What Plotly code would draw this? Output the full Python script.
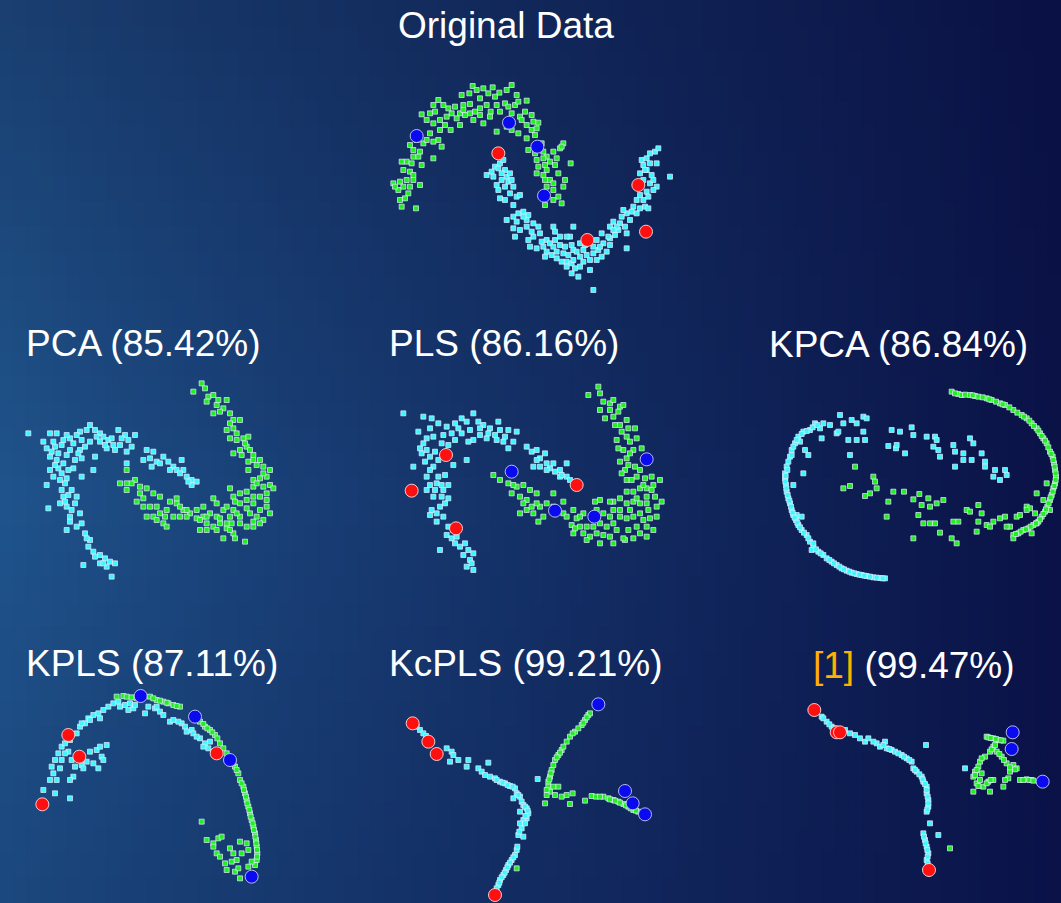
import plotly.graph_objects as go

W, H = 1061, 903

# ---------------- data (panel-local units, y measured downward) ----------------
titles = ["Original Data", "PCA (85.42%)", "PLS (86.16%)", "KPCA (86.84%)",
          "KPLS (87.11%)", "KcPLS (99.21%)", '<span style="color:#FFB000">[1]</span> (99.47%)']

orig_green = [(245,45),(278,18),(310,25),(338,22),(358,38),(395,15),(410,45),(440,62),(300,55),(270,72),(250,75),(225,80),(215,100),(200,110),(190,75),(175,60),(165,95),(150,100),(125,103),(160,130),(180,120),(240,100),(255,105),(285,95),(300,85),(320,75),(332,95),(350,75),(375,70),(385,80),(405,75),(420,110),(435,95),(425,120),(440,135),(455,150),(460,125),(475,128),(465,165),(440,175),(415,160),(395,150),(380,140),(350,155),(310,130),(280,120),(240,135),(212,150),(180,150),(175,180),(185,200),(160,185),(150,160),(130,190),(120,215),(100,210),(90,195),(110,180),(140,180),(160,235),(125,255),(100,230),(80,245),(65,245),(70,270),(90,275),(100,285),(80,300),(60,305),(40,310),(55,330),(85,340),(90,320),(75,355),(120,315),(65,380),(108,385),(60,360),(490,215),(500,230),(520,215),(540,205),(530,235),(525,255),(495,255),(475,260),(470,280),(490,285),(510,300),(500,320),(520,330),(545,370),(535,350),(495,375),(520,310),(555,300),(572,250),(550,190),(545,200),(490,235),(480,200),(445,210),(465,220),(500,270),(495,300),
              (268,40),(290,30),(325,40),(345,50),(380,30),(415,65),(395,100),(360,95),(330,110),(270,100),(230,115),(205,85),(160,75),(140,120),(195,135),(250,90),(300,105),(455,105),(470,145),(485,190),(510,245),(535,280),(550,320),(470,240),(520,360),(95,250),(70,320),(45,320),(115,230),(100,300)]
orig_cyan = [(320,285),(335,275),(345,260),(355,265),(360,250),(370,240),(375,270),(380,290),(390,280),(365,300),(350,315),(355,330),(375,320),(385,305),(400,320),(410,350),(420,345),(375,360),(360,355),(380,420),(400,410),(415,400),(430,395),(445,405),(440,420),(410,425),(400,445),(420,450),(440,440),(460,430),(475,440),(480,460),(460,470),(445,480),(405,470),(450,500),(470,505),(490,500),(500,515),(495,530),(515,525),(530,515),(540,495),(525,480),(550,520),(560,545),(575,550),(580,540),(600,530),(620,525),(640,520),(655,510),(665,530),(680,515),(690,495),(670,490),(650,480),(640,500),(610,510),(600,490),(575,495),(555,500),(570,470),(580,440),(560,470),(575,580),(595,590),(640,630),(630,570),(610,545),(665,460),(690,440),(700,425),(720,430),(715,450),(705,465),(740,460),(735,440),(750,420),(740,400),(730,390),(760,380),(770,400),(780,385),(795,380),(805,385),(770,360),(780,345),(800,335),(810,310),(820,300),(830,320),(815,285),(800,270),(790,255),(785,240),(800,235),(810,220),(825,215),(835,205),(830,250),(870,290),(780,280),(790,300),(740,505),(580,510),(600,560),(620,480),(540,470),(525,455),(520,440),(500,480),(690,475),
             (340,290),(365,280),(395,300),(390,340),(400,375),(430,410),(455,455),(485,485),(510,490),(530,535),(545,545),(565,525),(590,515),(615,495),(630,540),(660,500),(685,470),(710,440),(725,410),(755,395),(790,360),(805,350),(820,330),(810,250),(795,270),(560,560),(585,565),(520,500),(650,540),(700,450)]
orig_red = [(355,220),(775,315),(622,480),(798,455)]
orig_blue = [(110,168),(387,128),(472,200),(492,347)]

pca_cyan = [(85,190),(150,190),(170,190),(190,210),(210,205),(240,185),(270,165),(285,180),(300,190),(310,200),(325,210),(335,205),(355,180),(375,195),(385,210),(405,195),(395,230),(380,245),(360,225),(345,240),(320,235),(300,215),(270,215),(255,230),(245,210),(220,220),(210,240),(185,225),(165,230),(140,235),(150,260),(170,270),(190,280),(175,295),(150,300),(160,320),(185,310),(200,325),(220,295),(225,270),(245,265),(240,240),(285,260),(280,300),(245,320),(195,340),(185,360),(215,360),(230,380),(190,380),(180,400),(200,410),(215,420),(240,430),(225,400),(145,415),(140,345),(210,455),(245,460),(200,480),(255,490),(270,510),(265,530),(280,545),(300,555),(315,565),(330,575),(345,580),(320,590),(300,580),(335,620),(250,585),(440,240),(460,245),(470,275),(490,260),(505,275),(520,290),(530,300),(545,270),(550,300),(560,320),(575,330),(590,335),(575,345),(455,290),(430,270),(380,280),(235,250),
            (160,215),(200,195),(230,195),(260,180),(290,200),(315,225),(340,225),(365,205),(175,250),(200,255),(165,285),(205,300),(180,330),(205,375),(195,395),(210,440),(230,470),(260,505),(285,560),(310,580),(480,280),(510,300),(540,310),(565,335),(450,265),(130,215),(155,245)]
pca_green = [(605,40),(615,55),(580,65),(625,80),(640,75),(655,90),(680,90),(670,115),(660,125),(640,130),(690,130),(700,150),(720,150),(700,175),(680,180),(690,205),(710,210),(730,205),(745,200),(740,230),(720,240),(700,250),(725,255),(750,240),(760,255),(745,275),(770,285),(780,270),(790,290),(810,300),(745,300),(760,330),(780,325),(800,320),(810,345),(790,350),(760,350),(740,365),(720,370),(700,380),(690,355),(705,395),(720,400),(740,390),(760,400),(780,380),(800,370),(820,355),(800,410),(810,430),(790,450),(770,440),(750,430),(740,470),(760,470),(735,515),(705,505),(670,505),(680,475),(660,460),(640,470),(620,460),(600,480),(610,440),(630,430),(650,440),(670,420),(680,410),(640,385),(610,410),(590,420),(570,430),(550,420),(530,400),(510,395),(500,420),(480,430),(470,410),(450,410),(440,440),(460,440),(490,460),(500,470),(520,440),(540,440),(560,440),(590,445),(480,380),(460,370),(440,355),(420,370),(405,330),(395,340),(380,340),(360,340),(380,300),(410,395),(430,385),(700,420),(720,440),(695,460),(650,400),(680,460),(690,440),(760,380),(530,385),
             (620,95),(650,105),(690,160),(710,190),(735,220),(760,270),(790,310),(770,340),(800,390),(780,420),(760,455),(720,460),(700,490),(650,480),(620,440),(600,450),(560,420),(540,410),(495,440),(470,450),(430,410),(420,350),(380,360),(780,460),(740,415),(710,430),(660,445),(690,480),(620,480)]

pls_cyan = [(70,130),(130,140),(155,145),(175,160),(200,170),(225,160),(245,145),(260,155),(280,130),(295,155),(310,165),(330,175),(355,155),(360,180),(385,180),(410,185),(400,215),(385,235),(370,215),(350,210),(320,205),(300,195),(280,210),(265,215),(245,190),(225,210),(205,225),(185,220),(160,200),(140,205),(115,185),(120,235),(140,240),(150,260),(175,270),(160,290),(125,250),(100,290),(220,285),(260,270),(140,320),(150,345),(175,320),(195,315),(205,345),(190,360),(165,360),(140,360),(160,380),(185,380),(205,385),(180,410),(155,420),(150,435),(170,430),(190,440),(205,470),(200,495),(215,505),(230,500),(240,530),(255,520),(265,540),(280,550),(270,570),(280,600),(260,590),(180,540),(440,230),(455,245),(470,240),(480,265),(495,250),(500,280),(510,295),(525,305),(540,300),(560,280),(560,320),(570,330),(520,280),(540,320),(460,290),
            (150,175),(190,195),(215,190),(235,175),(270,180),(300,175),(325,190),(345,195),(375,200),(130,220),(165,245),(135,275),(150,300),(170,340),(185,345),(195,400),(170,455),(220,480),(225,520),(250,555),(275,580),(470,270),(500,300),(545,315),(480,290)]
pls_green = [(625,75),(655,50),(660,70),(670,95),(690,100),(700,90),(720,110),(730,105),(675,145),(700,140),(715,125),(740,150),(720,165),(725,185),(745,175),(765,175),(770,205),(750,215),(730,240),(760,240),(785,235),(740,265),(720,275),(745,285),(765,290),(780,300),(740,330),(770,320),(795,325),(815,320),(840,330),(820,345),(800,355),(780,355),(760,365),(740,365),(720,385),(700,395),(740,400),(760,395),(780,400),(800,380),(825,380),(845,395),(830,410),(805,420),(780,430),(760,440),(740,445),(720,440),(810,445),(820,480),(800,470),(780,490),(760,505),(735,510),(700,520),(660,520),(650,490),(630,500),(610,490),(580,490),(575,465),(590,445),(610,430),(650,420),(670,430),(690,440),(700,460),(680,470),(660,460),(640,470),(620,470),(550,430),(500,400),(490,440),(475,455),(460,430),(440,420),(420,430),(440,390),(450,360),(470,370),(430,345),(410,350),(385,340),(360,330),(340,315),(420,380),(395,370),(480,410),(560,440),(600,470),(730,505),(660,390),(690,395),(700,420),(720,420),(645,395),(580,420),(550,395),(520,370),(755,330),(735,300),(715,235),(710,210),(800,400),
             (660,120),(690,120),(705,165),(740,200),(750,250),(725,310),(790,345),(815,360),(770,385),(750,420),(790,450),(770,470),(710,480),(690,500),(640,440),(600,440),(585,475),(520,410),(470,400),(455,410),(400,345),(430,400),(830,440),(800,500),(745,480),(670,495),(620,510)]
pls_red = [(198,255),(95,362),(228,475),(590,345)]
pls_blue = [(395,305),(800,268),(525,422),(643,440)]

kpca_cyan = [(310,140),(320,145),(240,135),(210,165),(190,160),(165,160),(180,175),(150,180),(130,185),(115,200),(105,220),(95,240),(90,260),(85,275),(80,290),(75,310),(75,325),(78,345),(80,365),(85,385),(90,400),(95,420),(100,435),(108,450),(115,465),(125,480),(140,495),(150,515),(160,530),(175,545),(190,555),(200,565),(215,575),(230,585),(245,595),(260,602),(275,608),(290,612),(305,615),(320,618),(340,622),(360,624),(375,625),(95,255),(120,215),(135,240),(145,255),(130,310),(100,345),(110,435),(125,440),(185,205),(230,190),(250,160),(275,150),(290,160),(235,185),(265,210),(290,210),(315,210),(310,185),(270,255),(395,180),(420,185),(455,172),(460,195),(385,228),(408,235),(410,225),(435,250),(500,200),(525,200),(530,210),(520,230),(535,240),(540,260),(580,225),(585,245),(610,250),(610,270),(635,270),(630,205),(640,220),(665,250),(675,275),(675,290),(705,300),(700,320),(720,330),(735,300),(740,315),(585,290),(155,540),(160,520),
             (82,300),(77,318),(76,335),(79,355),(83,375),(88,392),(93,410),(98,428),(104,443),(112,458),(120,472),(132,488),(145,505),(168,538),(182,550),(208,570),(222,580),(238,590),(252,598),(268,605),(283,610),(298,614),(313,617),(330,620),(350,623),(368,625),(100,230),(110,210),(125,192),(140,183),(158,172),(172,165)]
kpca_green = [(575,65),(595,72),(605,75),(630,75),(645,78),(655,80),(680,85),(695,90),(720,100),(735,105),(760,120),(785,135),(800,145),(815,160),(830,175),(840,190),(850,205),(860,220),(870,245),(878,260),(882,280),(885,300),(888,320),(885,340),(880,355),(875,375),(870,390),(862,410),(855,425),(845,440),(835,455),(820,465),(805,475),(790,480),(775,490),(760,495),(750,470),(770,440),(780,435),(800,410),(810,415),(825,430),(830,460),(815,490),(760,505),(830,370),(860,340),(285,290),(340,320),(345,335),(350,355),(330,370),(315,378),(270,348),(250,355),(385,395),(400,365),(432,365),(460,388),(478,372),(485,405),(505,385),(510,410),(530,400),(550,390),(475,435),(490,460),(510,460),(525,460),(540,488),(580,455),(595,455),(620,420),(630,425),(655,405),(665,430),(655,455),(680,465),(700,455),(720,445),(735,440),(650,485),(575,505),(590,520),(460,505),(380,440),(690,470),(740,470),(870,420),(850,390),(800,420),
              (585,70),(615,74),(638,76),(668,82),(688,88),(708,95),(728,103),(748,112),(772,128),(792,140),(808,152),(822,168),(835,182),(845,198),(855,212),(865,232),(874,252),(880,270),(884,290),(887,310),(887,330),(883,348),(878,365),(872,382),(866,400),(858,418),(850,432),(840,448),(828,460),(812,470),(798,478),(782,485),(768,492)]

kpls_cyan = [(130,330),(165,340),(150,300),(160,280),(155,260),(165,240),(175,220),(185,200),(195,190),(210,180),(230,160),(240,140),(255,130),(265,115),(280,105),(295,100),(310,90),(325,80),(340,70),(355,65),(375,75),(385,90),(400,85),(405,75),(435,100),(465,85),(480,95),(490,105),(510,125),(520,120),(545,130),(555,140),(575,150),(580,160),(600,175),(615,190),(625,205),(630,185),(640,215),(610,200),(590,170),(560,155),(535,125),(470,80),(445,80),(390,70),(360,80),(300,115),(270,120),(245,130),(205,215),(215,240),(225,260),(245,255),(260,245),(270,215),(290,210),(300,200),(320,195),(305,230),(310,240),(295,265),(280,250),(250,265),(220,290),(210,300),(210,355),(185,240),(180,265),(170,300),(195,220)]
kpls_green = [(350,50),(370,48),(450,50),(470,60),(490,65),(505,70),(520,75),(540,80),(600,125),(615,140),(630,150),(645,165),(660,190),(670,205),(705,260),(715,280),(720,300),(730,320),(735,340),(740,360),(745,380),(750,400),(755,420),(760,440),(765,460),(768,480),(770,500),(772,520),(770,540),(765,555),(605,425),(620,480),(640,490),(655,475),(665,470),(690,505),(700,520),(710,540),(720,485),(740,490),(745,510),(725,520),(695,545),(675,550),(680,570),(705,575),(720,595),(745,560),(755,545),(650,520),(660,530),(640,500),(715,565),
              (380,50),(395,52),(410,55),(460,55),(480,62),(500,68),(530,78),(610,132),(622,145),(637,157),(652,175),(680,220),(690,235),(700,250),(710,270),(725,310),(732,330),(738,350),(742,370),(748,390),(752,410),(758,430),(762,450),(766,470),(769,490),(771,510),(771,530)]
kpls_red = [(205,165),(238,230),(127,373),(650,220)]
kpls_blue = [(422,48),(585,110),(690,240),(755,590)]

kcpls_cyan = [(120,150),(130,160),(200,205),(215,215),(210,245),(235,240),(265,240),(260,260),(325,248),(295,265),(305,275),(315,285),(330,290),(345,295),(360,305),(375,310),(390,318),(405,325),(410,340),(420,350),(425,365),(430,375),(440,385),(445,400),(440,415),(430,420),(420,430),(425,445),(415,465),(430,470),(410,510),(405,525),(395,540),(385,555),(378,570),(370,585),(360,600),(355,615),(350,625),(473,297),(400,355),(420,395),(435,430),
              (110,140),(138,168),(220,225),(350,300),(368,308),(383,315),(398,320),(415,345),(435,380),(443,392),(436,408),(418,455),(412,500),(400,532),(390,548),(382,562),(374,578),(365,592),(358,608)]
kcpls_green = [(625,105),(615,120),(605,135),(585,155),(570,170),(560,185),(545,210),(535,225),(525,240),(520,255),(510,290),(505,305),(505,320),(510,335),(500,345),(495,370),(520,320),(535,320),(545,350),(525,345),(560,345),(578,340),(570,372),(615,362),(635,348),(648,350),(670,350),(685,355),(700,360),(715,365),(730,372),(745,380),(760,390),(775,395),(410,565),
               (630,100),(620,112),(610,128),(595,145),(578,160),(550,200),(540,218),(530,232),(515,270),(512,280),(508,298),(500,330),(690,358),(705,362),(720,368),(738,376),(752,385),(768,392),(660,350)]
kcpls_red = [(98,130),(145,185),(170,222),(345,645)]
kcpls_blue = [(655,73),(735,333),(758,370),(795,403)]

ref_cyan = [(125,110),(140,125),(155,140),(170,150),(195,150),(210,160),(225,165),(255,185),(265,175),(290,190),(300,200),(315,185),(320,205),(335,210),(345,215),(365,225),(380,235),(395,245),(400,265),(410,275),(425,290),(430,305),(440,320),(440,340),(445,360),(445,380),(440,395),(450,430),(475,465),(430,460),(435,480),(440,500),(445,520),(440,540),(438,195),(555,265),
            (130,115),(148,133),(162,145),(182,150),(240,175),(280,185),(310,195),(328,207),(355,220),(372,230),(388,240),(405,270),(418,283),(428,298),(435,312),(440,330),(443,350),(445,370),(442,388),(432,470),(437,490),(442,510),(443,530),(443,550)]
ref_green = [(620,170),(640,175),(655,180),(670,182),(640,200),(630,215),(650,215),(665,230),(615,230),(600,245),(595,260),(585,275),(580,290),(590,310),(600,300),(610,320),(625,305),(640,300),(580,335),(630,335),(670,320),(685,295),(680,250),(700,255),(710,265),(690,275),(720,300),(740,298),(755,300),(510,505),(605,280),
             (625,172),(632,174),(648,177),(662,181),(635,208),(645,195),(658,222),(672,240),(690,262),(705,268),(730,300),(748,300),(760,302),(605,235),(590,270),(585,285),(595,318),(620,310),(632,300),(675,300)]
ref_red = [(103,90),(170,157),(180,157),(447,570)]
ref_blue = [(698,157),(695,207),(788,305)]

# ---------------- layout of panels (pixel boxes on the slide) ----------------
panel_boxes = [(380, 80, 300, 220), (0, 370, 300, 220), (380, 370, 300, 220), (760, 370, 300, 220),
               (0, 680, 300, 223), (380, 680, 300, 223), (780, 680, 281, 223)]
title_pos = [(506, 25, "center"), (24, 343, "left"), (387, 343, "left"), (767, 345, "left"),
             (24, 663, "left"), (387, 663, "left"), (811, 665, "left")]
panel_data = [
    (orig_cyan, orig_green, orig_red, orig_blue),
    (pca_cyan, pca_green, [], []),
    (pls_cyan, pls_green, pls_red, pls_blue),
    (kpca_cyan, kpca_green, [], []),
    (kpls_cyan, kpls_green, kpls_red, kpls_blue),
    (kcpls_cyan, kcpls_green, kcpls_red, kcpls_blue),
    (ref_cyan, ref_green, ref_red, ref_blue),
]

fig = go.Figure()

small_line = dict(color="rgba(225,240,255,0.7)", width=1)
styles = [
    dict(color="#3ff6ff", size=5, symbol="square", line=small_line),
    dict(color="#22ee22", size=5, symbol="square", line=small_line),
    dict(color="#ff1010", size=13, symbol="circle", line=dict(color="rgba(255,220,220,0.9)", width=1)),
    dict(color="#0a0aee", size=13, symbol="circle", line=dict(color="rgba(200,200,255,0.9)", width=1)),
]

layout_axes = {}
for i, (box, data) in enumerate(zip(panel_boxes, panel_data)):
    n = i + 1
    ax = "" if n == 1 else str(n)
    x0, y0, bw, bh = box
    for pts, st in zip(data, styles):
        if not pts:
            continue
        fig.add_trace(go.Scatter(x=[p[0] for p in pts], y=[p[1] for p in pts], mode="markers",
                                 marker=st, xaxis="x" + ax, yaxis="y" + ax,
                                 hoverinfo="skip", showlegend=False))
    layout_axes["xaxis" + ax] = dict(domain=[x0 / W, (x0 + bw) / W], range=[0, bw * 3],
                                     visible=False, fixedrange=True, anchor="y" + ax)
    layout_axes["yaxis" + ax] = dict(domain=[1 - (y0 + bh) / H, 1 - y0 / H], range=[bh * 3, 0],
                                     visible=False, fixedrange=True, anchor="x" + ax)

# ---------------- background gradient ----------------
def lerp(a, b, t):
    return tuple(a[k] + (b[k] - a[k]) * t for k in range(3))

def bg_color(fx, fy):
    if fy < 0.55:
        left = lerp((26, 63, 112), (31, 84, 140), fy / 0.55)
    else:
        left = lerp((31, 84, 140), (27, 72, 126), (fy - 0.55) / 0.45)
    right = lerp((10, 17, 68), (10, 18, 72), fy)
    c = lerp(left, right, fx ** 0.9)
    return "rgb(%d,%d,%d)" % tuple(int(round(v)) for v in c)

shapes = []
ncol, nrow = 80, 36
for ci in range(ncol):
    for ri in range(nrow):
        fx = (ci + 0.5) / ncol
        fy = (ri + 0.5) / nrow
        shapes.append(dict(type="rect", xref="paper", yref="paper",
                           x0=ci / ncol, x1=(ci + 1) / ncol + 0.001,
                           y0=1 - (ri + 1) / nrow - 0.001, y1=1 - ri / nrow,
                           fillcolor=bg_color(fx, fy), line=dict(width=0), layer="below"))

annotations = []
for t, (tx, ty, anc) in zip(titles, title_pos):
    annotations.append(dict(text=t, x=tx / W, y=1 - ty / H, xref="paper", yref="paper",
                            xanchor=anc, yanchor="middle", showarrow=False,
                            font=dict(family="Liberation Sans, Arial, sans-serif", size=37, color="white")))

fig.update_layout(width=W, height=H, margin=dict(l=0, r=0, t=0, b=0),
                  paper_bgcolor="#142d60", plot_bgcolor="rgba(0,0,0,0)",
                  shapes=shapes, annotations=annotations, **layout_axes)

fig.write_html("out.html", config={"displayModeBar": False},
               post_script="document.body.style.margin='0';document.body.style.overflow='hidden';document.body.style.background='#142d60';")
